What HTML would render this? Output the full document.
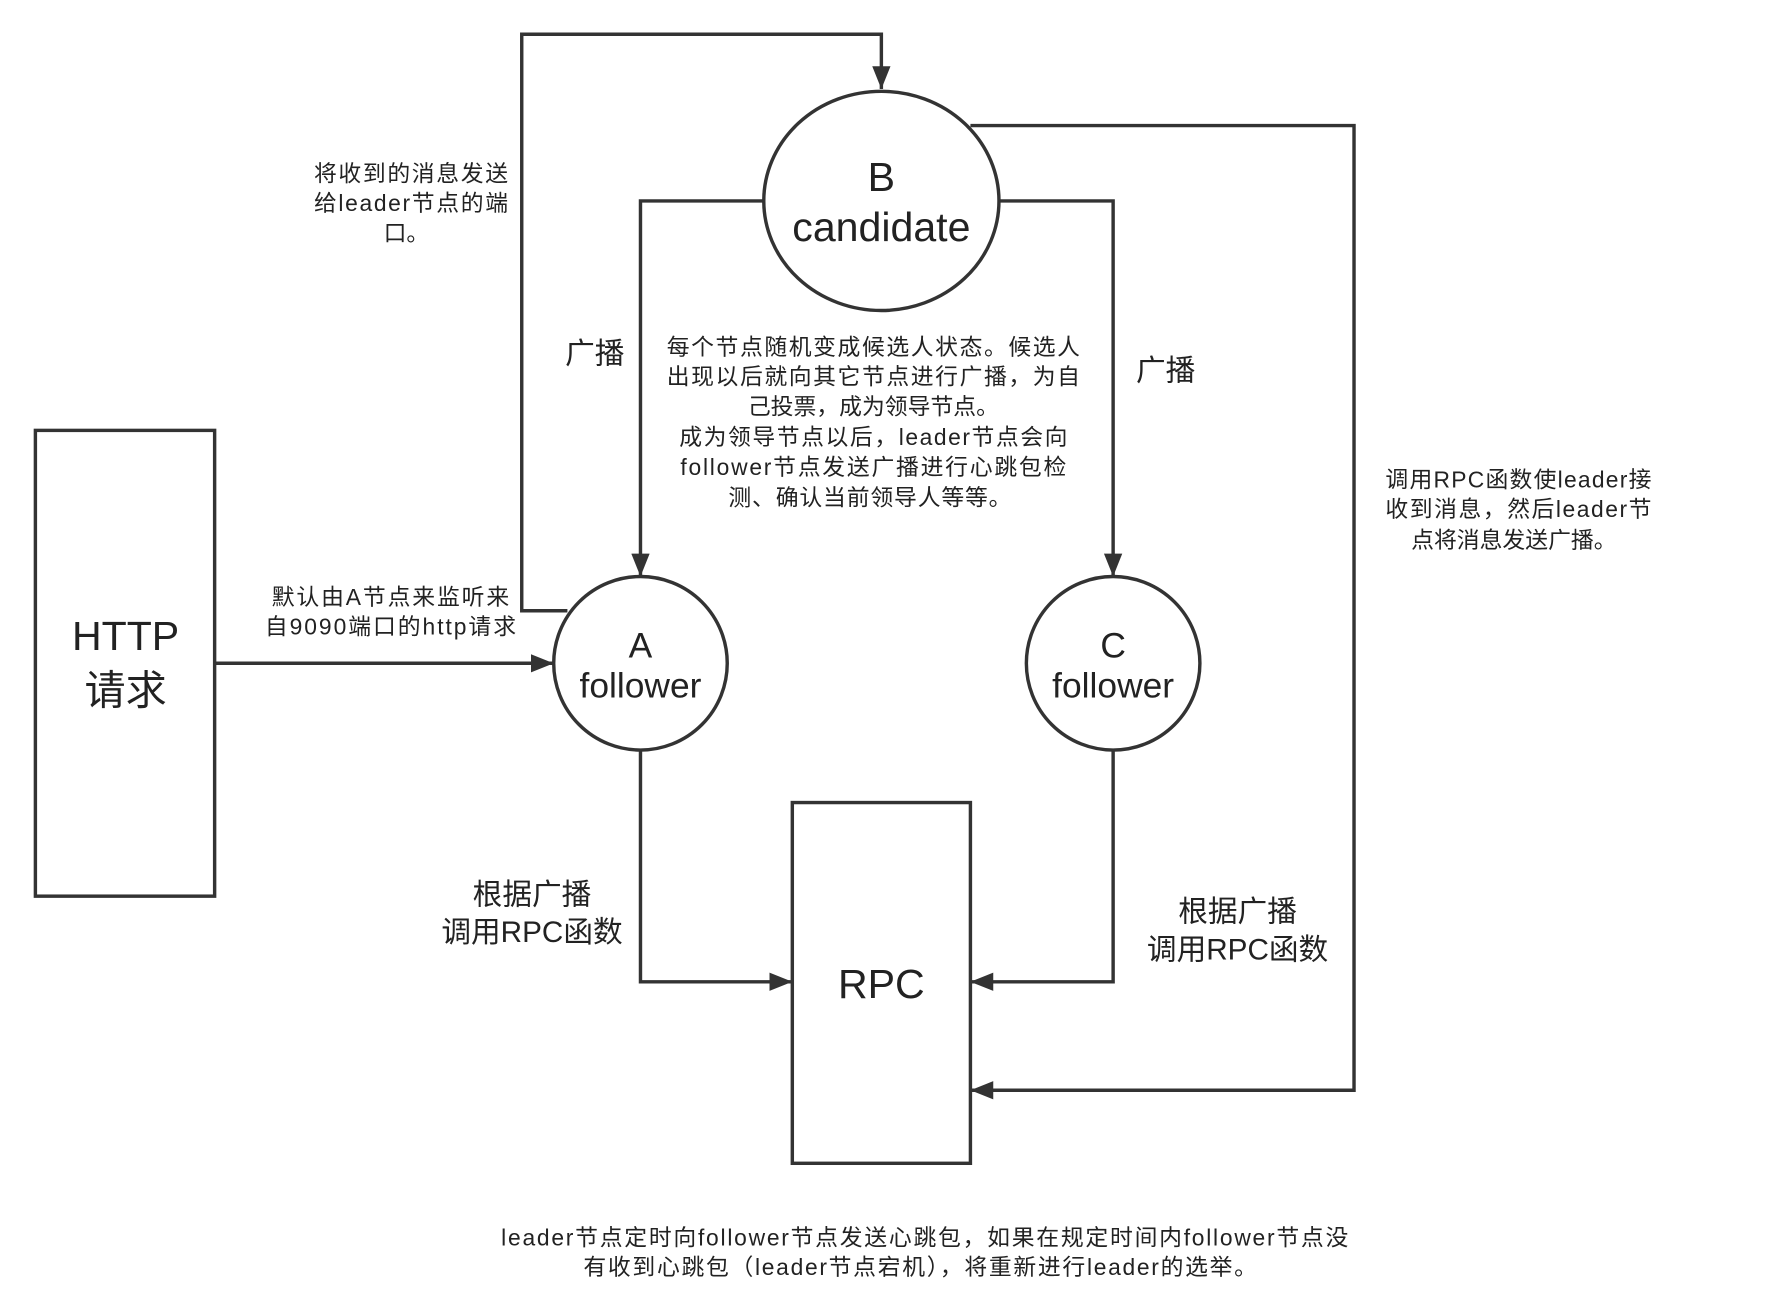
<!DOCTYPE html>
<html><head><meta charset="utf-8"><style>
html,body{margin:0;padding:0;background:#fff;}
svg{display:block;}
text{font-family:"Liberation Sans","Noto Sans CJK SC",sans-serif;fill:#222;text-anchor:middle;dominant-baseline:central;}
</style></head><body>
<svg width="1789" height="1306" viewBox="0 0 1567 1144" preserveAspectRatio="none" xmlns="http://www.w3.org/2000/svg">
<defs>
<marker id="a2" viewBox="0 0 20 16" markerWidth="20" markerHeight="16" refX="20" refY="8" orient="auto" markerUnits="userSpaceOnUse"><path d="M0,0 L20,8 L0,16 Z" fill="#333"/></marker></defs>
<g fill="none" stroke="#333" stroke-width="3">
<path d="M497,535 L457,535 L457,30 L772,30 L772,78" marker-end="url(#a2)"/>
<path d="M668,176 L561,176 L561,505" marker-end="url(#a2)"/>
<path d="M876,176 L975,176 L975,505" marker-end="url(#a2)"/>
<path d="M850,110 L1186,110 L1186,955 L850,955" marker-end="url(#a2)"/>
<path d="M188,581 L485,581" marker-end="url(#a2)"/>
<path d="M561,657 L561,860 L694,860" marker-end="url(#a2)"/>
<path d="M975,657 L975,860 L850,860" marker-end="url(#a2)"/>
<ellipse cx="772" cy="176" rx="103" ry="96" fill="#fff"/>
<ellipse cx="561" cy="581" rx="76" ry="76" fill="#fff"/>
<ellipse cx="975" cy="581" rx="76" ry="76" fill="#fff"/>
<rect x="31" y="377" width="157" height="408" fill="#fff"/>
<rect x="694" y="703" width="156" height="316" fill="#fff"/>
</g>
<g font-size="20">
<text x="360" y="152" textLength="170">将收到的消息发送</text><text x="360" y="178" textLength="170">给leader节点的端</text><text x="356" y="204">口。</text>
<text x="765" y="304" textLength="362">每个节点随机变成候选人状态。候选人</text>
<text x="765" y="330" textLength="362">出现以后就向其它节点进行广播，为自</text>
<text x="765" y="356">己投票，成为领导节点。</text>
<text x="765" y="383" textLength="340">成为领导节点以后，leader节点会向</text>
<text x="765" y="409" textLength="338">follower节点发送广播进行心跳包检</text>
<text x="762" y="436" textLength="248">测、确认当前领导人等等。</text>
<text x="1330" y="420" textLength="233">调用RPC函数使leader接</text>
<text x="1330" y="446" textLength="233">收到消息，然后leader节</text>
<text x="1326" y="473">点将消息发送广播。</text>
<text x="342" y="523" textLength="208">默认由A节点来监听来</text>
<text x="342" y="549" textLength="220">自9090端口的http请求</text>
<text x="810" y="1084" textLength="742">leader节点定时向follower节点发送心跳包，如果在规定时间内follower节点没</text>
<text x="806" y="1110" textLength="590">有收到心跳包（leader节点宕机），将重新进行leader的选举。</text>
</g>
<g font-size="26">
<text x="521" y="310">广播</text><text x="1021" y="325">广播</text>
<text x="466" y="784">根据广播</text><text x="466" y="817">调用RPC函数</text>
<text x="1084" y="799">根据广播</text><text x="1084" y="832">调用RPC函数</text>
</g>
<g font-size="31">
<text x="561" y="566">A</text><text x="561" y="601">follower</text>
<text x="975" y="566">C</text><text x="975" y="601">follower</text>
</g>
<g font-size="36">
<text x="772" y="155">B</text><text x="772" y="199">candidate</text>
<text x="110" y="557">HTTP</text><text x="110" y="605">请求</text>
<text x="772" y="862">RPC</text>
</g>
</svg>
</body></html>
